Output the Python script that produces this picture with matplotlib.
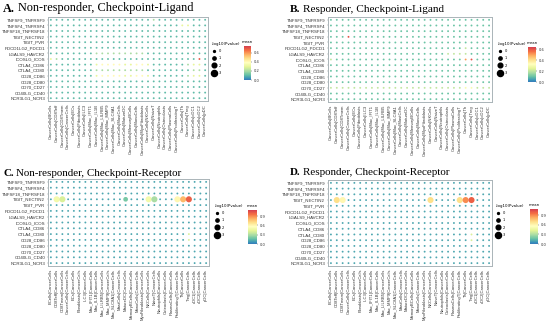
import matplotlib
matplotlib.use("Agg")
import matplotlib.pyplot as plt
import numpy as np
from matplotlib.colors import LinearSegmentedColormap
from matplotlib.lines import Line2D

W, H = 550, 328

pairs = ["TNFSF9_TNFRSF9", "TNFSF4_TNFRSF4", "TNFSF18_TNFRSF18", "TIGIT_NECTIN2",
         "TIGIT_PVR", "PDCD1LG2_PDCD1", "LGALS9_HAVCR2", "ICOSLG_ICOS",
         "CTLA4_CD86", "CTLA4_CD80", "CD28_CD86", "CD28_CD80", "CD70_CD27",
         "CD40LG_CD40", "NCR3LG1_NCR3"]

cells = ["BCells", "CD8Teff", "CD8Tmem", "CancerCells", "ECs", "Fibroblasts", "ILC3",
         "Mac_IFIT1", "Mac_IL1B", "Mac_LILRB5", "Mac_MMP9", "Mac_SLC8A1", "MastCells",
         "MatureDC", "MemoryBCells", "MonoCells", "MyoFibroblasts", "NKCells", "NaiveT",
         "Neutrophils", "Osteoclasts", "PlasmaCells", "ProliferatingT", "Th", "Treg",
         "cDC1", "cDC2", "pDC"]

ligand_labels = ["CancerCells|" + c for c in cells]
receptor_labels = [c + "|CancerCells" for c in cells]

# mean expression, one hex digit per cell pair (value / 10)
mean_A = ["1111111" "1111111" "1111211" "1111111",
          "1111111" "1111111" "1111111" "1133111",
          "1111111" "1111111" "1111111" "1111111",
          "1111111" "1111111" "1111111" "1111111",
          "1111111" "1111111" "1111111" "1111111",
          "1111111" "1111111" "1111111" "1111111",
          "1111111" "1222222" "2221111" "1111111",
          "3211111" "1111111" "1111111" "1111171",
          "1111111" "1344443" "3443111" "1112331",
          "1111111" "1222222" "2221111" "1111221",
          "1111111" "1344443" "3443111" "1112331",
          "1111111" "1111111" "1111111" "1111111",
          "1111111" "1111111" "1111111" "1111111",
          "1111111" "1111111" "1111111" "1111111",
          "1111111" "1111111" "1111111" "1111111"]

mean_B = ["1111111" "1111111" "1111111" "1111111",
          "1111111" "1111111" "1111111" "1111111",
          "1111111" "1111111" "1111111" "1111111",
          "1116111" "1111111" "1111111" "1111111",
          "1111111" "1111111" "1111111" "1111111",
          "1111111" "1111111" "1111111" "1121111",
          "1111111" "1111111" "1111112" "2221111",
          "2111111" "1111111" "1111111" "1156111",
          "1111111" "1111111" "1111111" "1111111",
          "1111111" "1111111" "1111111" "1111111",
          "1111111" "1111111" "1111111" "1111111",
          "1111111" "1111111" "1111111" "1111111",
          "2222222" "2222222" "2222222" "2233222",
          "1111111" "1111111" "1111111" "1111111",
          "1111111" "1111111" "1111111" "1111111"]

mean_C = ["1111111" "1111111" "1111111" "1111111",
          "1111111" "1111111" "1111111" "1111111",
          "1111111" "1111111" "1111111" "1111111",
          "1541111" "1111112" "1115311" "168a111",
          "1111111" "1111111" "1111111" "1111111",
          "1111111" "1111111" "1111111" "1111111",
          "1111111" "1111111" "1111111" "1111111",
          "1111111" "1111111" "1111111" "1111111",
          "1111111" "1111111" "1111111" "1111111",
          "1111111" "1111111" "1111111" "1114111",
          "1111111" "1111111" "1111111" "1114111",
          "1111111" "1111111" "1111111" "1111111",
          "1111111" "1111111" "1111111" "1111111",
          "1111111" "1111111" "1111111" "1111111",
          "1111111" "1111111" "1111111" "1111111"]

mean_D = ["1111111" "1111111" "1111111" "1111111",
          "1111111" "1111111" "1111111" "1111111",
          "1111111" "1111111" "1111111" "1111111",
          "1761111" "1111111" "1117111" "179a111",
          "1111111" "1111111" "1111111" "1111111",
          "1111111" "1111111" "1111111" "1111111",
          "1111111" "1111111" "1111111" "1111111",
          "1111111" "1111111" "1111111" "1111111",
          "1111111" "1111111" "1111111" "1111111",
          "1111111" "1111111" "1111111" "1114111",
          "1111111" "1111111" "1111111" "1114111",
          "1111111" "1111111" "1111111" "1111111",
          "1111111" "1111111" "1111111" "1111111",
          "1111111" "1111111" "1111111" "1111111",
          "1111111" "1111111" "1111111" "1111111"]

# -log10(Pvalue), one digit per cell pair
zero_row = "0000000" "0000000" "0000000" "0000000"
logp_A = [zero_row] * 15
logp_B = [zero_row] * 15
logp_C = [zero_row] * 3 + ["0330000" "0000002" "0003300" "0333000"] + [zero_row] * 11
logp_D = [zero_row] * 3 + ["0330000" "0000000" "0003000" "0333000"] + [zero_row] * 11

legend_values = [0, 1, 2, 3]


def decode(rows):
    return np.array([[int(ch, 16) / 10 for ch in r] for r in rows])


def decode_p(rows):
    return np.array([[int(ch) for ch in r] for r in rows])


def dot_area(v):
    return ((1.9 + 1.4 * np.asarray(v)) * 0.72) ** 2


base = plt.get_cmap("Spectral_r")
cmap = LinearSegmentedColormap.from_list("cb", base(np.linspace(0.08, 0.9, 256)))

fig = plt.figure(figsize=(5.5, 3.28), dpi=100)


def frac(x0, y0, x1, y1):
    return [x0 / W, 1 - y1 / H, (x1 - x0) / W, (y1 - y0) / H]


def panel(letter, title, tpos, tsize, rect, xlabels, mean, logp, vmax, ticks, leg, cb):
    ax = fig.add_axes(frac(*rect))
    m = decode(mean)
    p = decode_p(logp)
    yy, xx = np.meshgrid(np.arange(len(pairs)), np.arange(len(xlabels)), indexing="ij")
    ax.scatter(xx.ravel(), yy.ravel(), s=dot_area(p.ravel()), c=m.ravel(),
               cmap=cmap, vmin=0, vmax=vmax, linewidths=0)
    ax.set_xlim(-0.5, len(xlabels) - 0.5)
    ax.set_ylim(len(pairs) - 0.5, -0.5)
    ax.set_xticks(range(len(xlabels)))
    ax.set_xticklabels(xlabels, rotation=90, fontsize=3, family="Liberation Sans", color="#333333")
    ax.set_yticks(range(len(pairs)))
    ax.set_yticklabels(pairs, fontsize=3.2, family="Liberation Sans", color="#333333")
    ax.tick_params(length=1, width=0.3, pad=1, color="#888888")
    for s in ax.spines.values():
        s.set_color("#aab4b8")
        s.set_linewidth(0.7)

    t = fig.text(tpos[0] / W, 1 - tpos[1] / H, letter, fontsize=tsize, fontweight="bold",
                 family="Liberation Serif", va="center")
    ax.annotate(title, xy=(1, 0.5), xycoords=t, xytext=(2, 0), textcoords="offset points",
                va="center", fontsize=tsize, family="Liberation Serif", annotation_clip=False)

    handles = [Line2D([], [], ls="", marker="o", color="black",
                      markersize=np.sqrt(dot_area(v))) for v in legend_values]
    ax.legend(handles, [str(v) for v in legend_values], title="-log10(Pvalue)",
              loc="upper left", bbox_to_anchor=(leg[0] / W, 1 - leg[1] / H),
              bbox_transform=fig.transFigure, frameon=False, fontsize=2.6,
              title_fontsize=2.8, borderpad=0, labelspacing=0.9,
              handletextpad=0.6, handlelength=1.2, alignment="left")

    cax = fig.add_axes(frac(*cb))
    sm = plt.cm.ScalarMappable(cmap=cmap, norm=plt.Normalize(0, vmax))
    cbar = fig.colorbar(sm, cax=cax, ticks=ticks)
    cbar.outline.set_visible(False)
    cbar.ax.set_yticklabels(["%.1f" % v for v in ticks])
    cbar.ax.tick_params(labelsize=2.6, length=1, width=0.3, pad=1, colors="#333333")
    cax.set_title("mean", fontsize=2.8, pad=2.5)


panel("A.", "Non-responder, Checkpoint-Ligand", (3, 8.5), 8.8, (48, 17, 208, 101),
      ligand_labels, mean_A, logp_A, 0.75, [0, 0.2, 0.4, 0.6], (210, 40), (244, 46, 251, 80))
panel("B.", "Responder, Checkpoint-Ligand", (290, 9), 8.1, (328, 17, 492, 102),
      ligand_labels, mean_B, logp_B, 0.64, [0, 0.2, 0.4, 0.6], (496, 40), (528, 47, 536, 82))
panel("C.", "Non-responder, Checkpoint-Receptor", (3, 173.5), 7.9, (48, 179, 209, 266),
      receptor_labels, mean_C, logp_C, 1.1, [0, 0.3, 0.6, 0.9], (213, 202), (248, 210, 257, 244))
panel("D.", "Responder, Checkpoint-Receptor", (290, 172.5), 7.9, (328, 180, 492, 266),
      receptor_labels, mean_D, logp_D, 1.1, [0, 0.3, 0.6, 0.9], (494, 202), (530, 209, 538, 244))

fig.savefig("out.png", dpi=100)
